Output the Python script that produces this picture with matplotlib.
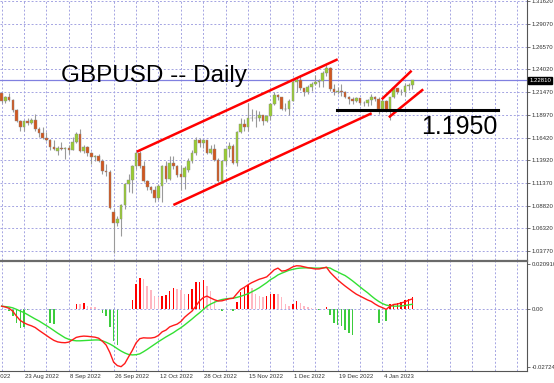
import numpy as np
import pandas as pd
import matplotlib
matplotlib.use('Agg')
import matplotlib.pyplot as plt
import matplotlib.transforms as mtransforms

plt.rcParams['font.family'] = ['Liberation Sans', 'DejaVu Sans']

# daily bars, 15 Aug 2022 .. 16 Jan 2023
dates = pd.bdate_range('2022-08-15', '2023-01-16')

opens = [1.2135, 1.2055, 1.2095, 1.2060, 1.1945, 1.1830, 1.1765, 1.1830, 1.1800, 1.1835,
         1.1735, 1.1690, 1.1640, 1.1620, 1.1540, 1.1495, 1.1530, 1.1515, 1.1530, 1.1505,
         1.1590, 1.1680, 1.1495, 1.1540, 1.1470, 1.1420, 1.1435, 1.1380, 1.1265, 1.1255,
         1.0810, 1.0690, 1.0735, 1.0890, 1.1120, 1.1165, 1.1320, 1.1475, 1.1320, 1.1160,
         1.1090, 1.1060, 1.0970, 1.1100, 1.1325, 1.1175, 1.1360, 1.1320, 1.1230, 1.1205,
         1.1285, 1.1375, 1.1475, 1.1620, 1.1580, 1.1610, 1.1470, 1.1510, 1.1390, 1.1160,
         1.1375, 1.1510, 1.1545, 1.1355, 1.1705, 1.1790, 1.1755, 1.1860, 1.1865, 1.1860,
         1.1890, 1.1825, 1.1885, 1.2015, 1.2115, 1.2090, 1.1960, 1.1955, 1.2055, 1.2260,
         1.2285, 1.2190, 1.2155, 1.2210, 1.2235, 1.2260, 1.2275, 1.2365, 1.2420, 1.2185,
         1.2150, 1.2160, 1.2155, 1.2095, 1.2070, 1.2045, 1.2080, 1.2030, 1.2025, 1.2065,
         1.2095, 1.2070, 1.1965, 1.2055, 1.1935, 1.2090, 1.2190, 1.2155, 1.2150, 1.2215,
         1.2230]
highs = [1.2140, 1.2105, 1.2140, 1.2075, 1.1960, 1.1840, 1.1840, 1.1860, 1.1860, 1.1900,
         1.1760, 1.1760, 1.1700, 1.1625, 1.1615, 1.1550, 1.1595, 1.1535, 1.1560, 1.1650,
         1.1700, 1.1740, 1.1560, 1.1545, 1.1480, 1.1450, 1.1460, 1.1405, 1.1350, 1.1275,
         1.0850, 1.0765, 1.0900, 1.1120, 1.1235, 1.1340, 1.1495, 1.1495, 1.1380, 1.1165,
         1.1105, 1.1100, 1.1120, 1.1340, 1.1380, 1.1440, 1.1435, 1.1340, 1.1335, 1.1320,
         1.1410, 1.1500, 1.1645, 1.1640, 1.1620, 1.1620, 1.1560, 1.1565, 1.1410, 1.1395,
         1.1520, 1.1590, 1.1565, 1.1720, 1.1855, 1.1850, 1.2030, 1.1955, 1.1950, 1.1935,
         1.1895, 1.1890, 1.2030, 1.2155, 1.2125, 1.2090, 1.2025, 1.2070, 1.2290, 1.2310,
         1.2345, 1.2200, 1.2225, 1.2265, 1.2345, 1.2290, 1.2380, 1.2447, 1.2430, 1.2235,
         1.2205, 1.2240, 1.2165, 1.2105, 1.2090, 1.2090, 1.2085, 1.2050, 1.2075, 1.2125,
         1.2110, 1.2090, 1.2070, 1.2065, 1.2095, 1.2215, 1.2195, 1.2185, 1.2245, 1.2250,
         1.2285]
lows = [1.2030, 1.2030, 1.2045, 1.1930, 1.1815, 1.1720, 1.1715, 1.1780, 1.1795, 1.1720,
        1.1650, 1.1630, 1.1600, 1.1500, 1.1500, 1.1445, 1.1500, 1.1405, 1.1460, 1.1500,
        1.1580, 1.1480, 1.1475, 1.1440, 1.1350, 1.1380, 1.1370, 1.1235, 1.1210, 1.0840,
        1.0350, 1.0660, 1.0540, 1.0850, 1.1030, 1.1025, 1.1295, 1.1300, 1.1150, 1.1060,
        1.1020, 1.0925, 1.0950, 1.0925, 1.1150, 1.1170, 1.1290, 1.1205, 1.1060, 1.1070,
        1.1255, 1.1360, 1.1450, 1.1540, 1.1520, 1.1460, 1.1460, 1.1385, 1.1145, 1.1140,
        1.1340, 1.1430, 1.1345, 1.1330, 1.1690, 1.1710, 1.1710, 1.1830, 1.1765, 1.1830,
        1.1780, 1.1810, 1.1840, 1.2000, 1.2060, 1.1945, 1.1940, 1.1895, 1.2045, 1.2155,
        1.2175, 1.2110, 1.2125, 1.2165, 1.2230, 1.2210, 1.2210, 1.2330, 1.2160, 1.2120,
        1.2125, 1.2100, 1.2080, 1.2020, 1.2020, 1.2035, 1.2000, 1.1990, 1.1990, 1.2010,
        1.2045, 1.1900, 1.1950, 1.1930, 1.1840, 1.2080, 1.2125, 1.2120, 1.2100, 1.2175,
        1.2180]
closes = [1.2055, 1.2095, 1.2060, 1.1945, 1.1830, 1.1765, 1.1830, 1.1800, 1.1835, 1.1735,
          1.1690, 1.1640, 1.1620, 1.1540, 1.1510, 1.1530, 1.1515, 1.1530, 1.1505, 1.1590,
          1.1680, 1.1495, 1.1540, 1.1470, 1.1420, 1.1435, 1.1380, 1.1265, 1.1255, 1.0860,
          1.0690, 1.0735, 1.0890, 1.1120, 1.1165, 1.1320, 1.1475, 1.1320, 1.1160, 1.1090,
          1.1060, 1.0970, 1.1100, 1.1325, 1.1175, 1.1360, 1.1320, 1.1220, 1.1205, 1.1305,
          1.1375, 1.1475, 1.1620, 1.1580, 1.1610, 1.1470, 1.1510, 1.1390, 1.1160, 1.1375,
          1.1510, 1.1545, 1.1355, 1.1705, 1.1790, 1.1755, 1.1860, 1.1865, 1.1860, 1.1890,
          1.1825, 1.1885, 1.2015, 1.2115, 1.2090, 1.1960, 1.1955, 1.2055, 1.2260, 1.2285,
          1.2190, 1.2155, 1.2210, 1.2235, 1.2260, 1.2275, 1.2365, 1.2420, 1.2185, 1.2150,
          1.2160, 1.2155, 1.2095, 1.2070, 1.2045, 1.2080, 1.2030, 1.2025, 1.2065, 1.2095,
          1.2070, 1.1965, 1.2055, 1.1935, 1.2090, 1.2190, 1.2155, 1.2150, 1.2215, 1.2230,
          1.2281]

# MACD panel
macd_main = [0.0012, 0.0008, 0.0002, -0.0012, -0.0035, -0.0055, -0.0066, -0.0074, -0.0080, -0.0088,
             -0.0101, -0.0113, -0.0125, -0.0137, -0.0148, -0.0155, -0.0158, -0.0159, -0.0156, -0.0145,
             -0.0134, -0.0130, -0.0128, -0.0129, -0.0131, -0.0133, -0.0138, -0.0152, -0.0170, -0.0205,
             -0.0250, -0.0266, -0.0271, -0.0256, -0.0225, -0.0195, -0.0160, -0.0140, -0.0136, -0.0137,
             -0.0137, -0.0134, -0.0125, -0.0108, -0.0100, -0.0085, -0.0078, -0.0072, -0.0060, -0.0040,
             -0.0025, -0.0011, 0.0012, 0.0036, 0.0052, 0.0059, 0.0050, 0.0042, 0.0036, 0.0037,
             0.0042, 0.0047, 0.0049, 0.0070, 0.0090, 0.0100, 0.0112, 0.0122, 0.0130, 0.0138,
             0.0143, 0.0149, 0.0165, 0.0182, 0.0190, 0.0176, 0.0178, 0.0186, 0.0196, 0.0201,
             0.0200, 0.0196, 0.0192, 0.0189, 0.0186, 0.0186, 0.0190, 0.0194, 0.0170, 0.0152,
             0.0135, 0.0120, 0.0106, 0.0093, 0.0080, 0.0068, 0.0059, 0.0050, 0.0041, 0.0034,
             0.0022, 0.0012, 0.0005, -0.0003, 0.0012, 0.0020, 0.0022, 0.0027, 0.0032, 0.0040,
             0.0046]
macd_signal = [0.0012, 0.0010, 0.0008, 0.0004, -0.0003, -0.0011, -0.0018, -0.0028, -0.0038, -0.0048,
               -0.0057, -0.0068, -0.0079, -0.0090, -0.0102, -0.0114, -0.0125, -0.0136, -0.0143, -0.0148,
               -0.0150, -0.0150, -0.0149, -0.0148, -0.0147, -0.0146, -0.0146, -0.0150, -0.0157, -0.0165,
               -0.0175, -0.0187, -0.0198, -0.0207, -0.0214, -0.0216, -0.0215, -0.0211, -0.0201, -0.0190,
               -0.0178, -0.0166, -0.0154, -0.0143, -0.0132, -0.0122, -0.0112, -0.0100, -0.0089, -0.0076,
               -0.0062, -0.0048, -0.0033, -0.0019, -0.0004, 0.0012, 0.0022, 0.0030, 0.0038, 0.0043,
               0.0046, 0.0048, 0.0049, 0.0053, 0.0058, 0.0064, 0.0070, 0.0079, 0.0088, 0.0098,
               0.0110, 0.0122, 0.0136, 0.0146, 0.0158, 0.0166, 0.0173, 0.0180, 0.0184, 0.0188,
               0.0190, 0.0191, 0.0191, 0.0191, 0.0190, 0.0190, 0.0191, 0.0193, 0.0190, 0.0180,
               0.0172, 0.0163, 0.0155, 0.0143, 0.0130, 0.0116, 0.0102, 0.0088, 0.0075, 0.0060,
               0.0046, 0.0034, 0.0024, 0.0017, 0.0014, 0.0012, 0.0012, 0.0013, 0.0015, 0.0018,
               0.0021]
macd_hist = [0.0, 0.0, -0.0010, -0.0035, -0.0066, -0.0090, -0.0085, -0.0005, 0.0, 0.0,
             0.0, 0.0, 0.0, -0.0066, -0.0072, 0.0, 0.0, 0.0, 0.0, 0.0,
             0.0024, 0.0020, 0.0028, 0.0013, 0.0009, 0.0006, 0.0, -0.0019, -0.0035, -0.0085,
             -0.0149, -0.0168, 0.0, 0.0, 0.0, 0.0039, 0.0115, 0.0146, 0.0138, 0.0107,
             0.0086, 0.0060, 0.0055, 0.0060, 0.0064, 0.0083, 0.0099, 0.0091, 0.0088, 0.0067,
             0.0070, 0.0091, 0.0123, 0.0126, 0.0134, 0.0107, 0.0083, 0.0036, -0.0003, -0.0011,
             0.0, 0.0, -0.0011, 0.0031, 0.0080, 0.0095, 0.0112, 0.0099, 0.0067, 0.0060,
             0.0055, 0.0060, 0.0067, 0.0070, 0.0067, 0.0055, 0.0020, 0.0013, 0.0024, 0.0036,
             0.0028, 0.0013, 0.0009, 0.0005, 0.0002, -0.0005, 0.0, 0.0009, -0.0027, -0.0066,
             -0.0074, -0.0082, -0.0098, -0.0113, -0.0121, 0.0, 0.0, 0.0, 0.0, 0.0,
             0.0, -0.0066, 0.0, -0.0058, 0.0020, 0.0024, 0.0028, 0.0033, 0.0039, 0.0044,
             0.0055]

price_ticks = [1.31620, 1.29070, 1.26570, 1.24020, 1.21470, 1.18970, 1.16420,
               1.13920, 1.11370, 1.08820, 1.06320, 1.03770]
macd_ticks = [0.02091, 0.0, -0.02724]
macd_tick_labels = ['0.020910', '0.00', '-0.02724']
last_price = 1.22810
support = 1.1950

# hand drawn trend lines, (bar, price) end points
chan_top = ([36.2, 90.0], [1.1484, 1.2515])
chan_bot = ([46.0, 99.1], [1.0890, 1.1913])
small_top = ([101.8, 109.8], [1.2069, 1.2388])
small_bot = ([103.7, 112.9], [1.1868, 1.2180])
support_span = [89.7, 133.0]

x = np.arange(len(dates))
o, h, l, c = map(np.array, (opens, highs, lows, closes))
up = c >= o

W, H = 554, 383
fig = plt.figure(figsize=(W / 100, H / 100), dpi=100)
ax = fig.add_axes([0, (H - 260) / H, 527 / W, 260 / H])
ax2 = fig.add_axes([0, 12 / H, 527 / W, (H - 261 - 12) / H])

grid_kw = dict(color='#a4a4e2', linestyle=(0, (2, 2)), linewidth=0.7)
xlim = (-0.43, 140.7)

# candles
ax.vlines(x, l, h, color='#9a9a9a', linewidth=0.8, zorder=2)
ax.bar(x[up], (c - o)[up], bottom=o[up], width=0.7, color='#9acd32',
       edgecolor='#8a8a8a', linewidth=0.3, zorder=3)
ax.bar(x[~up], (o - c)[~up], bottom=c[~up], width=0.7, color='#d2571e',
       edgecolor='#8a8a8a', linewidth=0.3, zorder=3)

ax.axhline(last_price, color='#8080e0', linewidth=0.9, zorder=1)
for xs, ys in (chan_top, chan_bot, small_top, small_bot):
    ax.plot(xs, ys, color='#ff0000', linewidth=1.8, solid_capstyle='butt', zorder=4)
ax.plot(support_span, [support, support], color='black', linewidth=2.2, zorder=4)

ax.text(61 / 527, 1 - 82 / 260, 'GBPUSD -- Daily', transform=ax.transAxes,
        fontsize=17.5, va='baseline', ha='left')
ax.text(421 / 527, 1 - 133.5 / 260, '1.1950', transform=ax.transAxes,
        fontsize=18, va='baseline', ha='left')

ax.set_xlim(*xlim)
ax.set_ylim(1.0276, 1.31765)
ax.set_xticks(np.arange(0, 141, 6))
ax.set_yticks(price_ticks)
ax.set_yticklabels([f'{p:.5f}' for p in price_ticks])
ax.yaxis.tick_right()
ax.tick_params(axis='y', length=2, width=0.6, color='#555555', labelsize=4.3, pad=1.5,
               labelcolor='#333333')
ax.tick_params(axis='x', length=0, labelbottom=False)
ax.grid(True, **grid_kw)
ax.set_axisbelow(True)
for s in ('left', 'top', 'bottom'):
    ax.spines[s].set_visible(False)
ax.spines['right'].set_color('#555555')

ytr = mtransforms.blended_transform_factory(ax.transAxes, ax.transData)
ax.text(1.004, last_price, f'{last_price:.5f}', transform=ytr, color='white',
        fontsize=4.3, va='center', ha='left',
        bbox=dict(facecolor='black', edgecolor='black', pad=0.8))

# MACD panel
hist = np.array(macd_hist)
cols = []
for i, v in enumerate(hist):
    prev = hist[i - 1] if i else 0.0
    if v < 0:
        cols.append('#3ccc3c')
    elif v >= prev:
        cols.append('#ff0000')
    else:
        cols.append('#ffb6c1')
ax2.bar(x, hist, width=0.4, color=cols, zorder=2)
ax2.plot(x, macd_signal, color='#33e033', linewidth=1.0, zorder=3)
ax2.plot(x, macd_main, color='#ff1a1a', linewidth=1.0, zorder=4)
ax2.axhline(0, **grid_kw)

ax2.set_xlim(*xlim)
ax2.set_ylim(-0.02912, 0.02232)
ax2.set_xticks(np.arange(0, 141, 6))
ax2.grid(True, axis='x', **grid_kw)
ax2.set_axisbelow(True)
ax2.set_yticks(macd_ticks)
ax2.set_yticklabels(macd_tick_labels)
ax2.yaxis.tick_right()
ax2.tick_params(axis='y', length=2, width=0.6, color='#555555', labelsize=4.3, pad=1.5,
                labelcolor='#333333')
ax2.tick_params(axis='x', length=0, labelbottom=False)
ax2.spines['left'].set_visible(False)
ax2.spines['top'].set_color('#6a6a6a')
ax2.spines['top'].set_linewidth(1.6)
ax2.spines['right'].set_color('#555555')
ax2.spines['bottom'].set_color('#555555')

# date labels every 12 bars, starting one period before the window
xtr = mtransforms.blended_transform_factory(ax2.transData, ax2.transAxes)
for i in range(-6, len(dates), 12):
    d = dates[0] + pd.offsets.BDay(i)
    ax2.text(i + 0.3, -0.025, f'{d.day} {d:%b %Y}', transform=xtr, fontsize=4.3,
             va='top', ha='left', color='#333333')

fig.savefig('out.png', dpi=100)
